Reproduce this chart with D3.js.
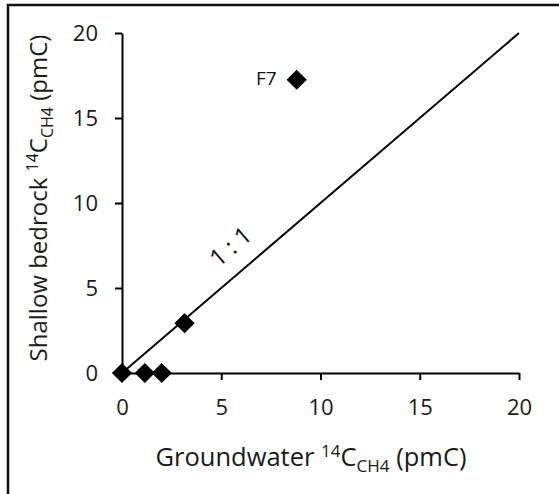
<!DOCTYPE html>
<html>
<head>
<meta charset="utf-8">
<script src="https://cdn.jsdelivr.net/npm/d3@7"></script>
<style>
  body { margin: 0; background: #fff; }
  svg { display: block; font-family: "Open Sans", sans-serif; }
</style>
</head>
<body>
<script>
// data
var groundwater = [0, 1.15, 2.0, 3.15, 8.8];
var bedrock = [0, 0, 0, 2.93, 17.25];
var pointLabels = ["", "", "", "", "F7"];
var tickValues = [0, 5, 10, 15, 20];
var oneToOne = [[0, 0], [20, 20]];

var width = 559, height = 494;

var svg = d3.select("body").append("svg")
    .attr("width", width)
    .attr("height", height)

// outer frame (right and bottom edge fall outside the picture)
svg.append("rect")
    .attr("x", 8)
    .attr("y", 5)
    .attr("width", 700)
    .attr("height", 700)
    .attr("fill", "none")
    .attr("stroke", "#111")
    .attr("stroke-width", 2.5)

var x = d3.scaleLinear().domain([0, 20]).range([122, 519])
var y = d3.scaleLinear().domain([0, 20]).range([373, 33])

var xAxis = svg.append("g")
    .attr("transform", "translate(0," + y(0) + ")")
    .call(d3.axisBottom(x).tickValues(tickValues).tickSize(7).tickSizeOuter(0))
var yAxis = svg.append("g")
    .attr("transform", "translate(" + x(0) + ",0)")
    .call(d3.axisLeft(y).tickValues(tickValues).tickSize(7).tickSizeOuter(0))

;[xAxis, yAxis].forEach(function (ax) {
    ax.select(".domain").attr("stroke", "#000").attr("stroke-width", 2)
    ax.selectAll(".tick line").attr("stroke", "#000").attr("stroke-width", 2)
    ax.selectAll(".tick text")
        .attr("fill", "#1a1a1a")
        .style("font-size", "22px")
        .style("font-family", "'Open Sans', sans-serif")
})
xAxis.selectAll(".tick text").attr("y", 42).attr("dy", 0)
yAxis.selectAll(".tick text").attr("x", -24).attr("dy", "0.36em")

// 1:1 line
svg.append("path")
    .datum(oneToOne)
    .attr("d", d3.line().x(function (d) { return x(d[0]) }).y(function (d) { return y(d[1]) }))
    .attr("stroke", "#000")
    .attr("stroke-width", 2)
    .attr("fill", "none")

var angle = Math.atan2(y(0) - y(20), x(20) - x(0)) * 180 / Math.PI
svg.append("text")
    .attr("transform", "translate(" + x(5.74) + "," + y(7.06) + ") rotate(" + (-angle) + ")")
    .attr("text-anchor", "middle")
    .style("font-size", "24px")
    .attr("fill", "#111")
    .text("1 : 1")

// diamonds
var points = groundwater.map(function (g, i) { return { gx: g, by: bedrock[i], label: pointLabels[i] } })
svg.selectAll(".pt")
    .data(points)
    .enter().append("path")
    .attr("class", "pt")
    .attr("d", d3.symbol().type(d3.symbolSquare).size(205))
    .attr("transform", function (d) { return "translate(" + x(d.gx) + "," + y(d.by) + ") rotate(45)" })
    .attr("fill", "#000")

svg.selectAll(".plabel")
    .data(points.filter(function (d) { return d.label }))
    .enter().append("text")
    .attr("class", "plabel")
    .attr("x", function (d) { return x(d.gx) - 20 })
    .attr("y", function (d) { return y(d.by) + 5 })
    .attr("text-anchor", "end")
    .style("font-size", "19px")
    .attr("fill", "#111")
    .text(function (d) { return d.label })

// axis titles
function title(sel, main, sub) {
    sel.append("tspan").text(main + " ")
    sel.append("tspan").attr("dy", -9).style("font-size", sub).text("14")
    sel.append("tspan").attr("dy", 9).text("C")
    sel.append("tspan").attr("dy", 6).style("font-size", sub).text("CH4")
    sel.append("tspan").attr("dy", -6).text(" (pmC)")
}

var xt = svg.append("text")
    .attr("x", 311)
    .attr("y", 466)
    .attr("text-anchor", "middle")
    .style("font-size", "25.5px")
    .attr("fill", "#1a1a1a")
title(xt, "Groundwater", "17px")

var yt = svg.append("text")
    .attr("transform", "translate(47,198) rotate(-90)")
    .attr("text-anchor", "middle")
    .style("font-size", "24px")
    .attr("fill", "#1a1a1a")
title(yt, "Shallow bedrock", "16px")
</script>
</body>
</html>
